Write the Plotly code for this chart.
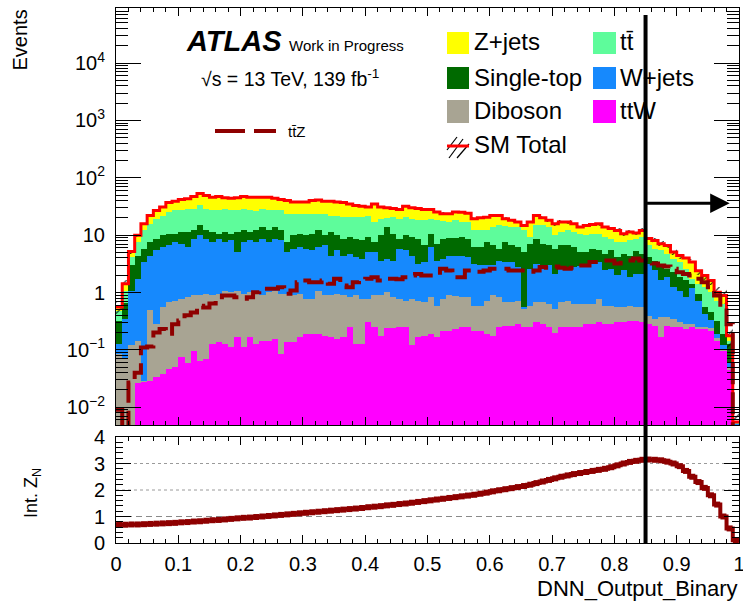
import numpy as np
import plotly.graph_objects as go

# ---------------- data ----------------
n_bins = 100
x_lo, x_hi = 0.0, 1.0

# cumulative stack tops (THStack order, bottom -> top: ttW, Diboson, W+jets, Single-top, ttbar, Z+jets)
sm_total = [0.56, 1.42, 5.2, 10.0, 15.8, 22, 27, 31, 37, 39,
            42, 43, 47, 53, 49, 46, 47, 45, 44, 45,
            47, 46, 46, 46, 46, 44, 42, 40, 38, 38,
            38, 40, 41, 39, 39, 38, 37, 35, 33, 32,
            31, 35, 31, 30, 29, 28, 32, 30, 29, 28,
            28, 25.3, 23.7, 23.7, 25.3, 25, 24, 19.4, 20, 20.6,
            22, 22, 19.4, 18.1, 16.9, 14.8, 16.9, 22, 20, 18.1,
            15.8, 16.9, 16.9, 15.8, 13.8, 14.8, 15.3, 15.8, 13.8, 13,
            12.1, 10.6, 11.3, 10.9, 12.1, 8.7, 8.1, 7.1, 6.6, 5.1,
            4.4, 4.0, 3.4, 2.4, 1.98, 1.62, 1.01, 0.89, 0.177, 0.0055]

stack_ttbar = [0.47, 1.08, 4.1, 7.6, 12.1, 15.8, 19.4, 22, 25.3, 27,
               27, 29, 29, 33, 29, 27, 27, 29, 27, 27,
               28, 27, 26, 28, 27, 27, 27, 23.7, 23.7, 23.7,
               23.7, 23, 23.7, 23, 22, 22, 21, 20.7, 20.7, 20.7,
               21.3, 16.9, 19.4, 20, 20.7, 19.4, 20.7, 19.4, 18.5, 18.1,
               19.4, 18.1, 17.5, 16.9, 18.1, 16.9, 16.9, 12.1, 12.1, 12.1,
               13.8, 14.8, 14.2, 13.8, 13.8, 12.1, 9.2, 14.8, 14.8, 13.8,
               9.9, 11.3, 12.1, 11.3, 10.6, 9.9, 10.6, 10.6, 9.2, 8.7,
               7.6, 7.6, 8.3, 8.7, 9.2, 6.6, 5.8, 5.4, 4.7, 3.9,
               3.4, 2.6, 1.74, 1.42, 1.24, 1.01, 0.72, 0.64, 0.145, 0.0053]

stack_singletop = [0.32, 0.65, 2.96, 4.4, 5.8, 7.6, 8.7, 9.9, 10.6, 10.6,
                   11.3, 11.3, 12.4, 14.8, 12.4, 11.3, 10.6, 11.3, 10.6, 11.3,
                   12.1, 11.3, 12.4, 13.8, 12.4, 13.8, 12.1, 7.6, 9.9, 10.6,
                   9.9, 10.6, 12.1, 9.9, 11.3, 9.9, 8.7, 9.2, 8.7, 8.1,
                   9.2, 7.6, 9.9, 13.8, 10.6, 8.7, 9.9, 9.2, 8.7, 6.6,
                   10.6, 7.1, 8.7, 9.0, 9.0, 9.2, 8.7, 6.2, 6.2, 7.6,
                   6.6, 5.8, 7.6, 6.6, 6.2, 5.1, 7.1, 8.7, 7.1, 6.6,
                   5.8, 6.6, 6.6, 6.2, 5.1, 5.1, 5.8, 5.4, 4.7, 5.4,
                   4.1, 4.7, 4.4, 5.3, 4.7, 4.1, 3.6, 2.96, 2.6, 2.26,
                   1.85, 1.62, 1.42, 0.95, 0.55, 0.45, 0.324, 0.19, 0.127, 0.0052]

stack_wjets = [0.127, 0.35, 1.08, 1.74, 3.4, 4.4, 5.4, 6.2, 6.6, 7.6,
               7.1, 6.2, 8.7, 9.9, 8.7, 7.6, 8.7, 7.6, 8.1, 5.1,
               7.6, 8.1, 7.6, 8.7, 7.6, 8.7, 8.1, 5.1, 5.8, 6.2,
               5.8, 5.4, 6.2, 6.6, 4.4, 5.4, 4.4, 4.7, 4.1, 3.9,
               5.1, 5.1, 3.6, 3.9, 3.6, 5.8, 5.4, 4.4, 3.2, 3.4,
               6.2, 3.6, 3.9, 4.25, 4.25, 4.4, 4.1, 3.2, 2.96, 2.96,
               2.96, 3.6, 3.4, 3.4, 2.77, 0.56, 2.6, 3.2, 2.96, 2.96,
               2.1, 2.6, 2.7, 2.77, 2.85, 3.2, 3.4, 3.4, 2.42, 2.6,
               1.98, 2.42, 1.85, 2.1, 2.1, 3.2, 2.42, 1.62, 1.85, 1.24,
               1.08, 0.83, 1.2, 0.72, 0.42, 0.33, 0.19, 0.12, 0.06, 0.0051]

stack_diboson = [0.085, 0.07, 0.12, 0.14, 0.029, 0.5, 0.28, 0.55, 0.68, 0.72,
                 0.78, 0.83, 0.89, 0.89, 0.95, 0.89, 0.95, 1.08, 1.01, 1.08,
                 0.95, 1.01, 0.95, 0.89, 1.01, 1.08, 0.95, 0.95, 0.89, 0.95,
                 0.78, 0.78, 1.08, 0.89, 0.89, 0.95, 0.89, 0.83, 0.89, 0.78,
                 0.78, 0.89, 0.89, 1.01, 0.83, 0.78, 0.72, 0.78, 0.72, 0.68,
                 0.83, 0.59, 0.78, 0.89, 0.86, 0.83, 0.83, 0.59, 0.59, 0.72,
                 0.89, 0.83, 0.68, 0.68, 0.72, 0.52, 0.59, 0.68, 0.68, 0.64,
                 0.52, 0.68, 0.72, 0.64, 0.64, 0.64, 0.64, 0.78, 0.59, 0.59,
                 0.55, 0.55, 0.59, 0.55, 0.55, 0.397, 0.35, 0.37, 0.37, 0.35,
                 0.30, 0.28, 0.28, 0.25, 0.25, 0.24, 0.16, 0.105, 0.05, 0.004]

stack_ttW = [0.001, 0.001, 0.002, 0.026, 0.027, 0.029, 0.033, 0.038, 0.046, 0.05,
             0.074, 0.06, 0.097, 0.065, 0.069, 0.127, 0.135, 0.127, 0.11, 0.165,
             0.11, 0.165, 0.127, 0.145, 0.145, 0.155, 0.085, 0.135, 0.135, 0.165,
             0.19, 0.19, 0.19, 0.177, 0.165, 0.155, 0.165, 0.25, 0.127, 0.127,
             0.30, 0.25, 0.177, 0.24, 0.24, 0.25, 0.25, 0.12, 0.165, 0.177,
             0.19, 0.165, 0.217, 0.217, 0.23, 0.25, 0.25, 0.217, 0.217, 0.19,
             0.177, 0.25, 0.265, 0.265, 0.28, 0.25, 0.25, 0.30, 0.28, 0.25,
             0.2, 0.25, 0.25, 0.25, 0.25, 0.28, 0.28, 0.30, 0.28, 0.28,
             0.30, 0.30, 0.324, 0.324, 0.30, 0.28, 0.265, 0.165, 0.265, 0.25,
             0.25, 0.23, 0.25, 0.23, 0.23, 0.21, 0.14, 0.095, 0.045, 0.003]

# relative uncertainty of SM total (hatched band)
sm_err_frac = [0.25, 0.15, 0.08, 0.06, 0.05, 0.05, 0.04, 0.04, 0.04, 0.04,
               0.04, 0.04, 0.04, 0.04, 0.04, 0.04, 0.04, 0.04, 0.04, 0.04,
               0.04, 0.04, 0.04, 0.04, 0.04, 0.04, 0.04, 0.05, 0.04, 0.04,
               0.04, 0.04, 0.04, 0.04, 0.04, 0.04, 0.05, 0.05, 0.05, 0.05,
               0.05, 0.05, 0.05, 0.05, 0.05, 0.05, 0.05, 0.05, 0.05, 0.05,
               0.05, 0.05, 0.05, 0.05, 0.05, 0.05, 0.05, 0.06, 0.06, 0.06,
               0.06, 0.06, 0.06, 0.06, 0.06, 0.07, 0.06, 0.06, 0.06, 0.06,
               0.07, 0.07, 0.07, 0.07, 0.07, 0.07, 0.07, 0.07, 0.07, 0.07,
               0.08, 0.08, 0.08, 0.08, 0.08, 0.09, 0.09, 0.10, 0.10, 0.11,
               0.12, 0.12, 0.13, 0.15, 0.16, 0.18, 0.22, 0.28, 0.45, 0.6]

ttZ = [0.009, 0.004, 0.027, 0.04, 0.11, 0.115, 0.2, 0.23, 0.19, 0.28,
       0.324, 0.4, 0.45, 0.59, 0.55, 0.64, 0.72, 0.89, 0.89, 0.83,
       0.78, 0.83, 1.01, 1.16, 1.16, 1.16, 1.24, 0.95, 1.08, 1.51,
       1.62, 1.51, 1.51, 1.62, 1.42, 1.74, 1.33, 1.24, 1.51, 1.62,
       1.74, 1.85, 1.62, 1.74, 1.74, 1.7, 1.85, 1.98, 2.1, 1.98,
       1.98, 1.98, 2.6, 2.42, 1.85, 1.85, 2.42, 2.42, 2.3, 2.42,
       2.6, 2.6, 2.6, 2.42, 2.42, 2.42, 2.3, 2.42, 2.77, 2.7,
       2.85, 2.7, 2.6, 2.7, 2.96, 2.96, 3.4, 3.4, 3.6, 3.6,
       3.2, 3.6, 3.6, 3.9, 3.6, 3.4, 3.2, 2.96, 2.85, 2.6,
       2.26, 2.1, 1.98, 1.74, 1.51, 1.24, 0.89, 0.55, 0.28, 0.004]

int_ZN = [0.69, 0.69, 0.70, 0.70, 0.71, 0.72, 0.73, 0.74, 0.75, 0.76,
          0.78, 0.79, 0.81, 0.82, 0.84, 0.86, 0.87, 0.89, 0.91, 0.93,
          0.95, 0.96, 0.98, 1.00, 1.02, 1.04, 1.06, 1.08, 1.10, 1.12,
          1.14, 1.16, 1.18, 1.20, 1.22, 1.24, 1.26, 1.28, 1.30, 1.32,
          1.35, 1.37, 1.39, 1.42, 1.44, 1.47, 1.49, 1.52, 1.55, 1.58,
          1.61, 1.64, 1.67, 1.70, 1.73, 1.76, 1.79, 1.82, 1.86, 1.90,
          1.95, 1.99, 2.03, 2.07, 2.11, 2.15, 2.20, 2.26, 2.32, 2.38,
          2.44, 2.50, 2.55, 2.60, 2.64, 2.68, 2.72, 2.76, 2.80, 2.86,
          2.93, 3.00, 3.06, 3.10, 3.14, 3.15, 3.14, 3.12, 3.07, 3.00,
          2.90, 2.72, 2.50, 2.30, 2.08, 1.80, 1.45, 1.00, 0.55, 0.10]

cut_value = 0.85

y_tick_vals = [1e-2, 1e-1, 1, 10, 1e2, 1e3, 1e4]
y_tick_text = ["10<sup>\u22122</sup>", "10<sup>\u22121</sup>", "1", "10",
               "10<sup>2</sup>", "10<sup>3</sup>", "10<sup>4</sup>"]
x_tick_vals = [0, 0.1, 0.2, 0.3, 0.4, 0.5, 0.6, 0.7, 0.8, 0.9, 1.0]
x_tick_text = ["0", "0.1", "0.2", "0.3", "0.4", "0.5", "0.6", "0.7", "0.8", "0.9", "1"]

# ---------------- figure ----------------
FONT = "Liberation Sans, Arial, Helvetica, sans-serif"
DRED = "#8e0000"
edges = np.linspace(x_lo, x_hi, n_bins + 1)
centers = 0.5 * (edges[:-1] + edges[1:])
bw = (x_hi - x_lo) / n_bins

layers = [
    ("Z+jets", sm_total, "#ffff00"),
    ("tt\u0304", stack_ttbar, "#5efc9b"),
    ("Single-top", stack_singletop, "#006a00"),
    ("W+jets", stack_wjets, "#1689fd"),
    ("Diboson", stack_diboson, "#a8a493"),
    ("ttW", stack_ttW, "#ff00ff"),
]

fig = go.Figure()
for name, top, col in layers:
    fig.add_trace(go.Bar(x=centers, y=top, width=bw, name=name,
                         marker=dict(color=col, line=dict(width=0)),
                         xaxis="x", yaxis="y", hoverinfo="x+y+name"))

tot = np.array(sm_total)
ef = np.array(sm_err_frac)
fig.add_trace(go.Bar(x=centers, y=2 * tot * ef, base=tot * (1 - ef), width=bw,
                     name="SM Total unc.",
                     marker=dict(color="rgba(0,0,0,0)", line=dict(width=0),
                                 pattern=dict(shape="/", fgcolor="black",
                                              bgcolor="rgba(0,0,0,0)", size=8, solidity=0.12)),
                     xaxis="x", yaxis="y"))
fig.add_trace(go.Scatter(x=edges, y=np.append(tot, tot[-1]), mode="lines", name="SM Total",
                         line=dict(color="#ff0000", width=3, shape="hv"), xaxis="x", yaxis="y"))
ttz = np.array(ttZ)
fig.add_trace(go.Scatter(x=edges, y=np.append(ttz, ttz[-1]), mode="lines", name="ttZ",
                         line=dict(color=DRED, width=4, dash="22px,8px", shape="hv"),
                         xaxis="x", yaxis="y"))

zn = np.array(int_ZN)
fig.add_trace(go.Scatter(x=edges, y=np.append(zn, zn[-1]), mode="lines", name="Int. ZN",
                         line=dict(color=DRED, width=4, shape="hv"), xaxis="x2", yaxis="y2"))
fig.add_trace(go.Scatter(x=centers, y=zn, mode="markers", name="Int. ZN",
                         marker=dict(symbol="square", size=6, color=DRED),
                         xaxis="x2", yaxis="y2"))

minor_log = [m * 10.0 ** e for e in range(-3, 5) for m in range(2, 10)]

# panel geometry (pixels)
L, R, T, B = 116, 4, 8, 60
W, H = 743, 603
PW, PH = W - L - R, H - T - B
def fx(px):
    return (px - L) / PW
def fy(py):
    return (H - B - py) / PH

top_dom = [fy(425), 1.0]
bot_dom = [0.0, fy(437)]

axis_common = dict(showline=True, linecolor="black", linewidth=1, mirror="allticks",
                   showgrid=False, zeroline=False, ticks="inside", tickcolor="black",
                   tickwidth=1, tickfont=dict(family=FONT, size=20, color="black"))

fig.update_layout(
    width=W, height=H, template="none",
    margin=dict(l=L, r=R, t=T, b=B, autoexpand=False),
    paper_bgcolor="white", plot_bgcolor="white",
    barmode="overlay", bargap=0, showlegend=False,
    font=dict(family=FONT, size=20, color="black"),
    xaxis=dict(domain=[0, 1], anchor="y", range=[0, 1], showticklabels=False,
               tickmode="array", tickvals=x_tick_vals, ticklen=8,
               minor=dict(dtick=0.02, tick0=0, ticks="inside", ticklen=4, tickcolor="black"),
               **axis_common),
    yaxis=dict(domain=top_dom, anchor="x", type="log", range=[-2.31, 4.96],
               tickmode="array", tickvals=y_tick_vals, ticktext=y_tick_text, ticklen=25,
               ticklabelstandoff=6,
               minor=dict(tickmode="array", tickvals=minor_log, ticks="inside", ticklen=12,
                          tickcolor="black"),
               **axis_common),
    xaxis2=dict(domain=[0, 1], anchor="y2", range=[0, 1],
                tickmode="array", tickvals=x_tick_vals, ticktext=x_tick_text, ticklen=8,
                ticklabelstandoff=3, ticklabeloverflow="allow",
                minor=dict(dtick=0.02, tick0=0, ticks="inside", ticklen=4, tickcolor="black"),
                **axis_common),
    yaxis2=dict(domain=bot_dom, anchor="x2", range=[0, 4],
                tickmode="array", tickvals=[0, 1, 2, 3, 4], ticklen=15,
                ticklabelstandoff=6,
                minor=dict(dtick=0.2, tick0=0, ticks="inside", ticklen=7, tickcolor="black"),
                **axis_common),
)

shapes = []
# reference lines in the significance panel
shapes.append(dict(type="line", xref="x2", yref="y2", x0=0, x1=1, y0=1, y1=1,
                   line=dict(color="#8a8a8a", width=1, dash="6px,4px"), layer="below"))
for lv in (2, 3):
    shapes.append(dict(type="line", xref="x2", yref="y2", x0=0, x1=1, y0=lv, y1=lv,
                       line=dict(color="#9a9a9a", width=1, dash="dot"), layer="below"))
# cut line
shapes.append(dict(type="line", xref="x", yref="paper", x0=cut_value, x1=cut_value,
                   y0=0, y1=fy(15), line=dict(color="black", width=4)))

# legend boxes
leg_rows = [(32, 54), (67, 89), (100, 123)]
col1 = [("Z+jets", "#ffff00"), ("Single-top", "#006a00"), ("Diboson", "#a8a493")]
col2 = [("tt\u0304", "#5efc9b"), ("W+jets", "#1689fd"), ("ttW", "#ff00ff")]
annotations = []
for (y0, y1), (lab, c) in zip(leg_rows, col1):
    shapes.append(dict(type="rect", xref="paper", yref="paper", x0=fx(447), x1=fx(469),
                       y0=fy(y1), y1=fy(y0), fillcolor=c, line=dict(width=0)))
    annotations.append(dict(text=lab, x=fx(472), y=fy((y0 + y1) / 2 - 1), xref="paper", yref="paper",
                            xanchor="left", yanchor="middle", showarrow=False,
                            font=dict(size=24, family=FONT, color="black")))
for (y0, y1), (lab, c) in zip(leg_rows, col2):
    shapes.append(dict(type="rect", xref="paper", yref="paper", x0=fx(593), x1=fx(616),
                       y0=fy(y1), y1=fy(y0), fillcolor=c, line=dict(width=0)))
    annotations.append(dict(text=lab, x=fx(618), y=fy((y0 + y1) / 2 - 1), xref="paper", yref="paper",
                            xanchor="left", yanchor="middle", showarrow=False,
                            font=dict(size=24, family=FONT, color="black")))
# SM total legend symbol
for (xa, ya, xb, yb) in [(447, 150, 457, 137), (449, 158, 463, 139), (457, 158, 469, 144)]:
    shapes.append(dict(type="line", xref="paper", yref="paper", x0=fx(xa), y0=fy(ya),
                       x1=fx(xb), y1=fy(yb), line=dict(color="black", width=1.2)))
shapes.append(dict(type="line", xref="paper", yref="paper", x0=fx(447), x1=fx(469),
                   y0=fy(146), y1=fy(146), line=dict(color="#ff0000", width=3)))
annotations.append(dict(text="SM Total", x=fx(472), y=fy(145), xref="paper", yref="paper",
                        xanchor="left", yanchor="middle", showarrow=False,
                        font=dict(size=24, family=FONT, color="black")))
# ttZ legend
shapes.append(dict(type="line", xref="paper", yref="paper", x0=fx(215), x1=fx(276),
                   y0=fy(131), y1=fy(131), line=dict(color=DRED, width=4, dash="30px,9px")))
annotations.append(dict(text="tt\u0304Z", x=fx(286), y=fy(131), xref="paper", yref="paper",
                        xanchor="left", yanchor="middle", showarrow=False,
                        font=dict(size=15, family=FONT, color="black")))

# ATLAS label
annotations.append(dict(text="<b><i>ATLAS</i></b>", x=fx(184), y=fy(41), xref="paper", yref="paper",
                        xanchor="left", yanchor="middle", showarrow=False,
                        font=dict(size=29, family=FONT, color="black")))
annotations.append(dict(text="Work in Progress", x=fx(287), y=fy(45), xref="paper", yref="paper",
                        xanchor="left", yanchor="middle", showarrow=False,
                        font=dict(size=15, family=FONT, color="black")))
annotations.append(dict(text="\u221as = 13 TeV, 139 fb<sup>-1</sup>", x=fx(199), y=fy(78),
                        xref="paper", yref="paper", xanchor="left", yanchor="middle",
                        showarrow=False, font=dict(size=19.5, family=FONT, color="black")))

# axis titles
annotations.append(dict(text="Events", x=fx(19), y=fy(8), xref="paper", yref="paper",
                        xanchor="center", yanchor="top", textangle=-90, showarrow=False,
                        font=dict(size=20, family=FONT, color="black")))
annotations.append(dict(text="Int. Z<sub>N</sub>", x=fx(32), y=fy(493), xref="paper", yref="paper",
                        xanchor="center", yanchor="middle", textangle=-90, showarrow=False,
                        font=dict(size=18, family=FONT, color="black")))
annotations.append(dict(text="DNN_Output_Binary", x=fx(740), y=fy(588), xref="paper", yref="paper",
                        xanchor="right", yanchor="middle", showarrow=False,
                        font=dict(size=22, family=FONT, color="black")))

# arrow showing the selected region
arrow_y = np.log10(36.0)
annotations.append(dict(x=0.985, y=arrow_y, ax=cut_value, ay=arrow_y, xref="x", yref="y",
                        axref="x", ayref="y", text="", showarrow=True, arrowhead=2,
                        arrowsize=1.3, arrowwidth=3, arrowcolor="black"))

fig.update_layout(shapes=shapes, annotations=annotations)
fig.write_html("out.html",
               config={"displayModeBar": False},
               post_script="document.body.style.margin='0px';document.body.style.padding='0px';"
                           "document.body.style.overflow='hidden';")
